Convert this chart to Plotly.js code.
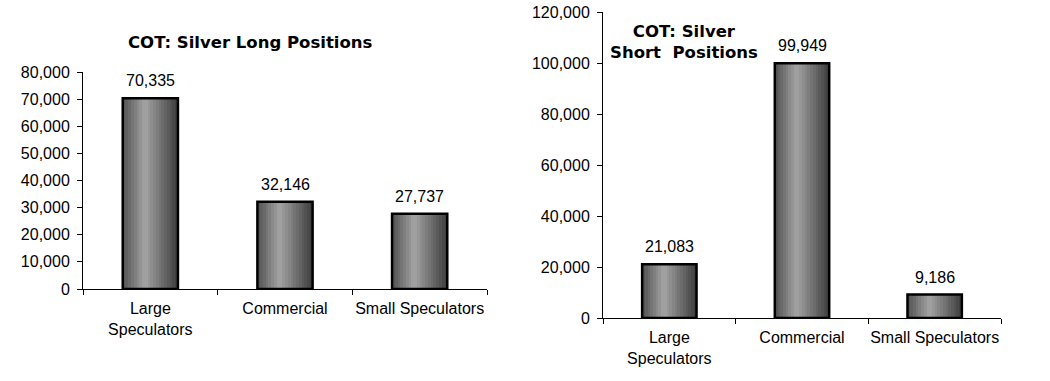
<!DOCTYPE html>
<html>
<head>
<meta charset="utf-8">
<script src="https://cdn.plot.ly/plotly-3.0.1.min.js"></script>
<style>html,body{margin:0;padding:0;background:#fff;}#chart{width:1050px;height:381px;}</style>
</head>
<body>
<div id="chart"></div>
<script>
// ---- data ----
var categories = ["Large<br>Speculators", "Commercial", "Small Speculators"];
var longPositions = [70335, 32146, 27737];
var shortPositions = [21083, 99949, 9186];
var longTitle = "COT: Silver Long Positions";
var shortTitle = "COT: Silver<br>Short\u00a0\u00a0Positions";

// ---- styling helpers ----
var BAR_W = 0.41;
var STRIPS = 20;
function shade(t) {
  // cylinder-like gray shading, light band slightly left of centre
  var v = t < 0.4 ? 80 + (164 - 80) * (t / 0.4) : 164 - (164 - 60) * ((t - 0.4) / 0.6);
  v = Math.round(v);
  return "rgb(" + v + "," + v + "," + v + ")";
}
var labelFont = {family: "Liberation Sans, Arial, sans-serif", size: 16, color: "#000"};
function barTraces(values, xa, ya) {
  var traces = [];
  var sw = BAR_W / STRIPS;
  for (var i = 0; i < STRIPS; i++) {
    traces.push({
      type: "bar", x: categories, y: values, xaxis: xa, yaxis: ya,
      width: sw * 1.3, offset: -BAR_W / 2 + i * sw,
      marker: {color: shade((i + 0.5) / STRIPS), line: {width: 0}},
      hoverinfo: "skip", showlegend: false
    });
  }
  traces.push({
    type: "bar", x: categories, y: values, xaxis: xa, yaxis: ya,
    width: BAR_W,
    marker: {color: "rgba(0,0,0,0)", line: {color: "#000", width: 2.5}},
    showlegend: false
  });
  return traces;
}
function labelAnnotations(values, xa, ya) {
  return values.map(function (v, i) {
    return {x: categories[i], y: v, xref: xa, yref: ya, text: v.toLocaleString("en-US"),
      showarrow: false, xanchor: "center", yanchor: "bottom", yshift: 7, font: labelFont};
  });
}

var data = barTraces(longPositions, "x", "y").concat(barTraces(shortPositions, "x2", "y2"));

var tickFont = {family: "Liberation Sans, Arial, sans-serif", size: 16, color: "#000"};
function xAxis(domain, anchor) {
  return {domain: domain, anchor: anchor, type: "category", showline: true, linecolor: "#000", linewidth: 1,
    ticks: "outside", tickson: "boundaries", ticklen: 5, tickcolor: "#000", tickfont: tickFont,
    tickangle: 0, ticklabelstandoff: 5, showgrid: false, zeroline: false, fixedrange: true};
}
function yAxis(domain, anchor, range, dtick) {
  return {domain: domain, anchor: anchor, range: range, dtick: dtick, tickformat: ",d",
    showline: true, linecolor: "#000", linewidth: 1, ticks: "outside", ticklen: 5, tickcolor: "#000",
    ticklabelstandoff: 4, tickfont: tickFont, showgrid: false, zeroline: false, fixedrange: true};
}

var W = 1050, H = 381;
var titleFont = {family: "DejaVu Sans, Verdana, sans-serif", size: 16.5, color: "#000"};
var layout = {
  width: W, height: H,
  margin: {l: 0, r: 0, t: 0, b: 0},
  paper_bgcolor: "#fff", plot_bgcolor: "rgba(0,0,0,0)",
  barmode: "overlay", bargap: 0,
  showlegend: false,
  xaxis: xAxis([83 / W, 487 / W], "y"),
  yaxis: yAxis([(H - 289) / H, (H - 72) / H], "x", [0, 80000], 10000),
  xaxis2: xAxis([603 / W, 1001 / W], "y2"),
  yaxis2: yAxis([(H - 318) / H, (H - 12) / H], "x2", [0, 120000], 20000),
  annotations: [
    {text: "<b>" + longTitle + "</b>", xref: "paper", yref: "paper", x: 250 / W, y: (H - 43) / H,
      xanchor: "center", yanchor: "middle", showarrow: false, font: titleFont},
    {text: "<b>" + shortTitle + "</b>", xref: "paper", yref: "paper", x: 684 / W, y: (H - 42) / H,
      xanchor: "center", yanchor: "middle", showarrow: false, align: "center", font: titleFont}
  ].concat(labelAnnotations(longPositions, "x", "y")).concat(labelAnnotations(shortPositions, "x2", "y2"))
};

Plotly.newPlot("chart", data, layout, {displayModeBar: false, staticPlot: true});
</script>
</body>
</html>
